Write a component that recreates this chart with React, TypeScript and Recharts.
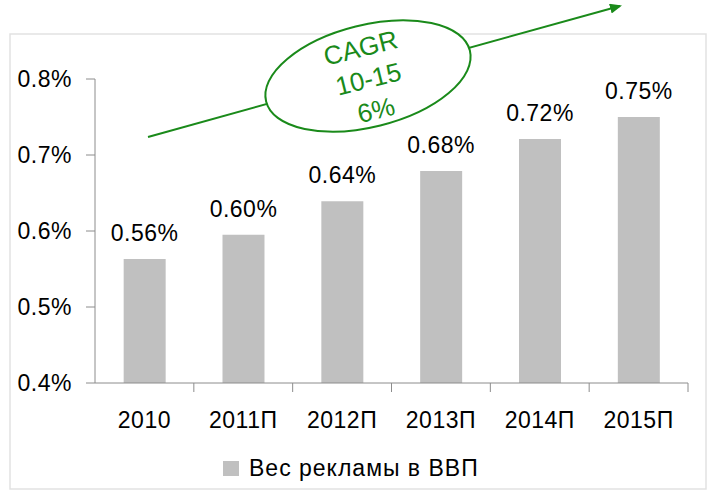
import React from "react";
import { BarChart, Bar, XAxis, YAxis, LabelList, Legend, Customized } from "recharts";

const years = ["2010", "2011П", "2012П", "2013П", "2014П", "2015П"];
const shares = [0.563, 0.595, 0.639, 0.679, 0.721, 0.75];
const shareLabels = ["0.56%", "0.60%", "0.64%", "0.68%", "0.72%", "0.75%"];
const yTicks = [0.4, 0.5, 0.6, 0.7, 0.8];
const seriesName = "Вес рекламы в ВВП";
const cagrLines = ["CAGR", "10-15", "6%"];

const data = years.map((y, i) => ({ year: y, share: shares[i], label: shareLabels[i] }));

const W = 708;
const H = 490;
const MARGIN = { top: 79, right: 20, bottom: 67, left: 10 };
const Y_AXIS_W = 85;
const BAND = (W - MARGIN.left - MARGIN.right - Y_AXIS_W) / years.length;
const FONT = "Arial, 'Liberation Sans', sans-serif";
const GREEN = "#1a8a1a";
const GRAY = "#8c8c8c";
const FS = 23;

const XTick = (props: any) => {
  const { x, y, payload } = props;
  return (
    <g>
      <line x1={x + BAND / 2} x2={x + BAND / 2} y1={383} y2={392} stroke={GRAY} strokeWidth={1} />
      <text x={x} y={y} dy={37} textAnchor="middle" fontSize={FS} fill="#000" fontFamily={FONT} letterSpacing={0.5}>
        {payload.value}
      </text>
    </g>
  );
};

const Annotation = () => (
  <g>
    <rect x={10} y={34} width={696} height={455} fill="none" stroke="#e2e2e2" strokeWidth={1.5} />
    <defs>
      <marker id="ah" markerWidth="12" markerHeight="10" refX="10" refY="5" orient="auto" markerUnits="userSpaceOnUse">
        <path d="M0,0 L12,5 L0,10 z" fill={GREEN} />
      </marker>
    </defs>
    <line x1={148} y1={137} x2={620} y2={6} stroke={GREEN} strokeWidth={2} markerEnd="url(#ah)" />
    <ellipse cx={368} cy={76} rx={105} ry={51} transform="rotate(-14 368 76)" fill="#fff" stroke={GREEN} strokeWidth={2} />
    <g transform="rotate(-14 368 78)">
      {cagrLines.map((t, i) => (
        <text key={t} x={368} y={56 + i * 32} textAnchor="middle" fontSize={26} fill={GREEN} fontFamily={FONT}>
          {t}
        </text>
      ))}
    </g>
  </g>
);

const LegendContent = () => (
  <div style={{ display: "flex", alignItems: "center", justifyContent: "flex-start", fontFamily: FONT, fontSize: FS, color: "#000", letterSpacing: 1 }}>
    <span style={{ display: "inline-block", width: 16, height: 15, background: "#c0c0c0", marginRight: 10 }} />
    <span>{seriesName}</span>
  </div>
);

export default function App() {
  return (
    <div style={{ position: "absolute", left: 0, top: 0, width: W, height: H, background: "#fff" }}>
      <BarChart width={W} height={H} data={data} margin={MARGIN} barCategoryGap="29%">
        <XAxis
          dataKey="year"
          axisLine={{ stroke: GRAY }}
          tickLine={false}
          tick={<XTick />}
          height={40}
          interval={0}
        />
        <YAxis
          type="number"
          domain={[0.4, 0.8]}
          ticks={yTicks}
          width={Y_AXIS_W}
          axisLine={{ stroke: GRAY }}
          tickLine={{ stroke: GRAY }}
          tickSize={9}
          tickMargin={14}
          tickFormatter={(v: number) => v.toFixed(1) + "%"}
          tick={{ fontSize: FS, fill: "#000", fontFamily: FONT, letterSpacing: 0.5 }}
          allowDataOverflow
        />
        <Bar dataKey="share" name={seriesName} fill="#c0c0c0" isAnimationActive={false}>
          <LabelList dataKey="label" position="top" offset={18} fontSize={FS} fill="#000" fontFamily={FONT} letterSpacing={0.5} />
        </Bar>
        <Legend
          verticalAlign="middle"
          align="center"
          layout="horizontal"
          content={<LegendContent />}
          wrapperStyle={{ top: 455, left: 223, width: 400 }}
        />
        <Customized component={<Annotation />} />
      </BarChart>
    </div>
  );
}
